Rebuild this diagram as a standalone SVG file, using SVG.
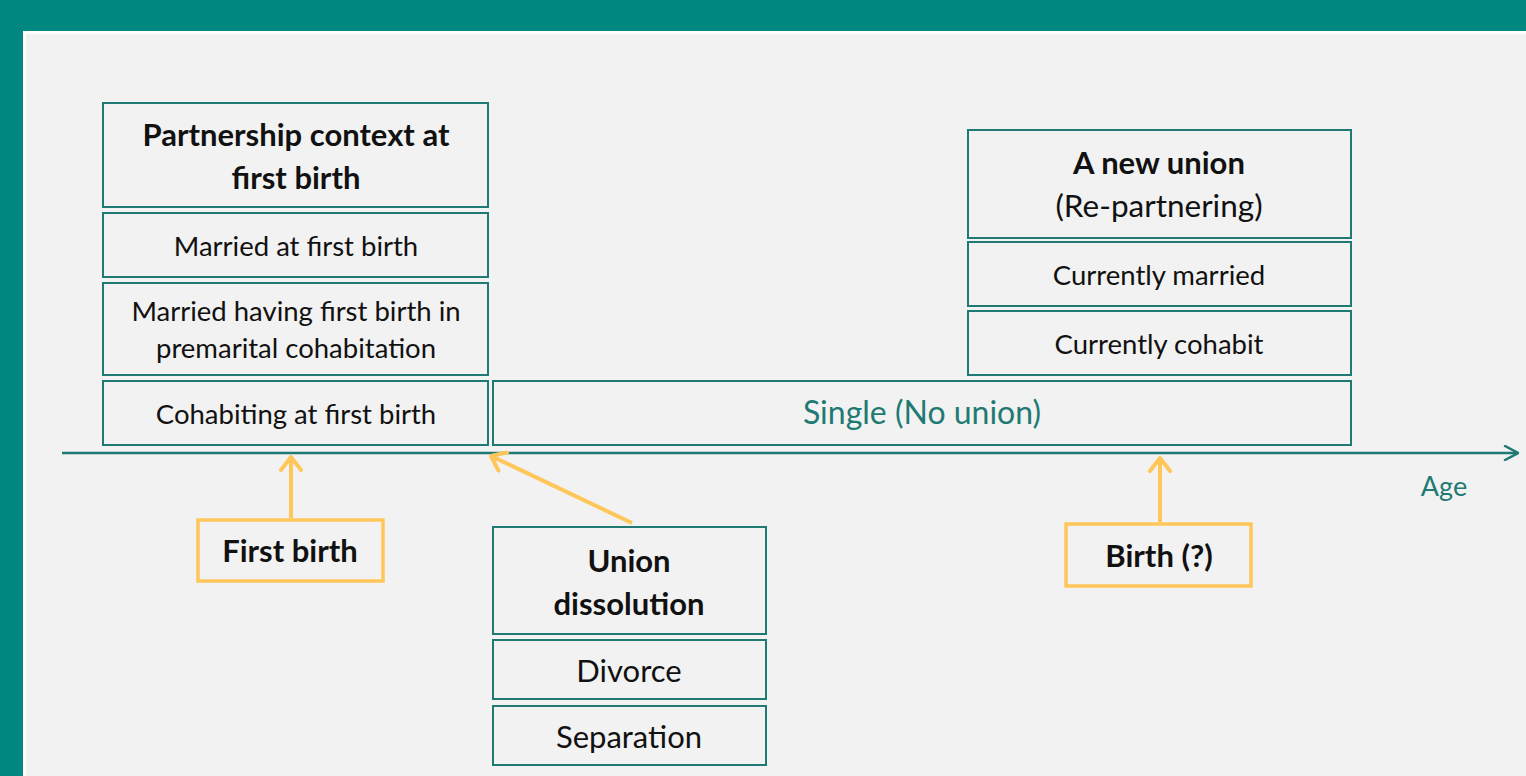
<svg xmlns="http://www.w3.org/2000/svg" width="1526" height="776" viewBox="0 0 1526 776">
<defs>
<style>
.box{fill:#f2f2f2;stroke:#1f7a74;stroke-width:2}
.ybox{fill:#f2f2f2;stroke:#ffc65a;stroke-width:3.5}
.t{font-family:Lato,"Liberation Sans",sans-serif;font-size:27.5px;fill:#111;text-anchor:middle}
.b{font-family:Lato,"Liberation Sans",sans-serif;font-size:31px;font-weight:bold;fill:#111;text-anchor:middle}
.teal{fill:#1f7a74}
.ya{stroke:#ffc65a;stroke-width:4;fill:none}
</style>
<marker id="ah" viewBox="0 0 24 24" refX="21" refY="12" markerWidth="24" markerHeight="24" markerUnits="userSpaceOnUse" orient="auto">
<path d="M8,2 L21,12 L8,22" fill="none" stroke="#ffc65a" stroke-width="4" stroke-linecap="round" stroke-linejoin="round"/>
</marker>
<marker id="axh" viewBox="0 0 16 16" refX="15" refY="8" markerWidth="16" markerHeight="16" markerUnits="userSpaceOnUse" orient="auto">
<path d="M2,1 L15,8 L2,15" fill="none" stroke="#1f7a74" stroke-width="2.5" stroke-linecap="round"/>
</marker>
</defs>
<rect x="0" y="0" width="1526" height="776" fill="#00877f"/>
<rect x="23" y="31" width="1503" height="745" fill="#ffffff"/>
<rect x="26" y="34" width="1500" height="742" fill="#f2f2f2"/>

<g id="partnership">
<rect class="box" x="103" y="103" width="385" height="104"/>
<text class="b" x="296" y="146">Partnership context at</text>
<text class="b" x="296" y="189">first birth</text>
</g>
<g id="married-first">
<rect class="box" x="103" y="213" width="385" height="64"/>
<text class="t" x="296" y="256">Married at first birth</text>
</g>
<g id="married-premarital">
<rect class="box" x="103" y="283" width="385" height="92"/>
<text class="t" x="296" y="321">Married having first birth in</text>
<text class="t" x="296" y="358">premarital cohabitation</text>
</g>
<g id="cohabiting">
<rect class="box" x="103" y="381" width="385" height="64"/>
<text class="t" x="296" y="424">Cohabiting at first birth</text>
</g>
<g id="single">
<rect class="box" x="493" y="381" width="858" height="64"/>
<text class="t teal" x="922" y="424" style="font-size:32px">Single (No union)</text>
</g>
<g id="new-union">
<rect class="box" x="968" y="130" width="383" height="108"/>
<text class="b" x="1159" y="174">A new union</text>
<text class="t" x="1159" y="217" style="font-size:31.5px">(Re-partnering)</text>
</g>
<g id="currently-married">
<rect class="box" x="968" y="242" width="383" height="64"/>
<text class="t" x="1159" y="285">Currently married</text>
</g>
<g id="currently-cohabit">
<rect class="box" x="968" y="311" width="383" height="64"/>
<text class="t" x="1159" y="354">Currently cohabit</text>
</g>
<g id="first-birth">
<rect class="ybox" x="198" y="520" width="185" height="61"/>
<text class="b" x="290" y="562">First birth</text>
</g>
<g id="union-dissolution">
<rect class="box" x="493" y="527" width="273" height="107"/>
<text class="b" x="629" y="572">Union</text>
<text class="b" x="629" y="615">dissolution</text>
</g>
<g id="divorce">
<rect class="box" x="493" y="640" width="273" height="59"/>
<text class="t" x="629" y="682" style="font-size:31px">Divorce</text>
</g>
<g id="separation">
<rect class="box" x="493" y="706" width="273" height="59"/>
<text class="t" x="629" y="748" style="font-size:31px">Separation</text>
</g>
<g id="birth-q">
<rect class="ybox" x="1066" y="524" width="185" height="62"/>
<text class="b" x="1159" y="567">Birth (?)</text>
</g>
<g id="age-label">
<text class="t teal" x="1444" y="496" style="font-size:27px">Age</text>
</g>

<g id="connectors">
<line x1="62" y1="453" x2="1518" y2="453" stroke="#1f7a74" stroke-width="2.5" marker-end="url(#axh)"/>
<line class="ya" x1="291" y1="518" x2="291" y2="457" marker-end="url(#ah)"/>
<line class="ya" x1="632" y1="523" x2="491" y2="456" marker-end="url(#ah)"/>
<line class="ya" x1="1160" y1="522" x2="1160" y2="458" marker-end="url(#ah)"/>
</g>
</svg>
